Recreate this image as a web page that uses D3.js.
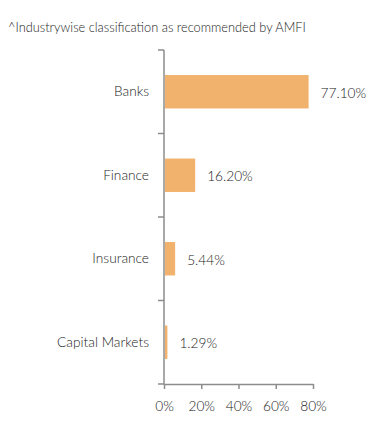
<!DOCTYPE html>
<html>
<head>
<meta charset="utf-8">
<script src="https://cdn.jsdelivr.net/npm/d3@7"></script>
<style>
  body { margin: 0; background: #fff; }
  svg text { font-family: Lato, "Open Sans", sans-serif; font-weight: 300; fill: #222; }
  .axis path, .axis line { stroke: #8c8c8c; }
</style>
</head>
<body>
<div id="chart"></div>
<script>
'use strict';

var categories = ["Banks", "Finance", "Insurance", "Capital Markets"];
var values = [77.10, 16.20, 5.44, 1.29];
var xTicks = [0, 20, 40, 60, 80];
var title = "^Industrywise classification as recommended by AMFI";

var width = 391, height = 438;
var margin = { top: 50, right: 78, bottom: 54, left: 164 };

var svg = d3.select("#chart").append("svg")
    .attr("width", width)
    .attr("height", height);

svg.append("text")
    .attr("x", 8)
    .attr("y", 32)
    .style("font-size", "12.8px")
    .text(title);

var x = d3.scaleLinear()
    .domain([0, 80])
    .range([margin.left, width - margin.right]);

var y = d3.scaleBand()
    .domain(categories)
    .range([margin.top, height - margin.bottom])
    .paddingInner(0.6)
    .paddingOuter(0.3);

var yAxis = d3.axisLeft(y).tickSize(0).tickPadding(15);
var gy = svg.append("g")
    .attr("class", "axis")
    .attr("transform", "translate(" + margin.left + ",0)")
    .call(yAxis);
gy.selectAll("text").style("font-size", "13.7px");
gy.select(".domain").remove();

// separator ticks between categories
var bounds = d3.range(categories.length + 1).map(function (i) {
    return margin.top + i * (height - margin.bottom - margin.top) / categories.length;
});
svg.append("line")
    .attr("x1", margin.left).attr("x2", margin.left)
    .attr("y1", margin.top).attr("y2", height - margin.bottom)
    .attr("stroke", "#8c8c8c").attr("stroke-width", 1.5);
svg.selectAll(".sep").data(bounds).enter().append("line")
    .attr("class", "sep")
    .attr("x1", margin.left - 6).attr("x2", margin.left)
    .attr("y1", function (d) { return d; })
    .attr("y2", function (d) { return d; })
    .attr("stroke", "#8c8c8c").attr("stroke-width", 1.5);

var xAxis = d3.axisBottom(x)
    .tickValues(xTicks)
    .tickFormat(function (d) { return d + "%"; })
    .tickSize(5)
    .tickSizeOuter(0)
    .tickPadding(12);
var gx = svg.append("g")
    .attr("class", "axis")
    .attr("transform", "translate(0," + (height - margin.bottom) + ")")
    .call(xAxis);
gx.selectAll("text").style("font-size", "13.7px");
gx.selectAll("path, line").attr("stroke-width", 1.5);

svg.selectAll(".bar").data(values).enter().append("rect")
    .attr("class", "bar")
    .attr("x", x(0) + 1)
    .attr("y", function (d, i) { return y(categories[i]); })
    .attr("width", function (d) { return x(d) - x(0); })
    .attr("height", y.bandwidth())
    .attr("fill", "#f0b26c");

svg.selectAll(".val").data(values).enter().append("text")
    .attr("class", "val")
    .attr("x", function (d) { return x(d) + 13; })
    .attr("y", function (d, i) { return y(categories[i]) + y.bandwidth() / 2 + 1; })
    .attr("dy", "0.35em")
    .style("font-size", "13.7px")
    .text(function (d) { return d.toFixed(2) + "%"; });
</script>
</body>
</html>
